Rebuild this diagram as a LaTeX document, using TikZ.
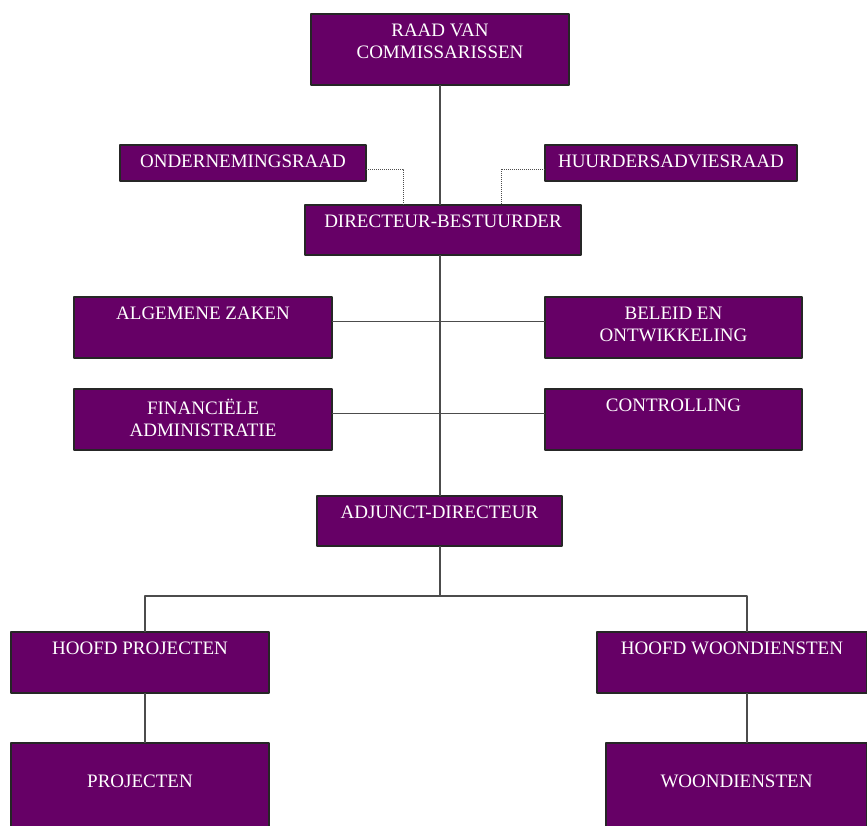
\documentclass[tikz,border=0pt]{standalone}
\usepackage{fontspec}
\setmainfont{Liberation Serif}
\definecolor{paars}{HTML}{660066}
\begin{document}
\begin{tikzpicture}[x=1pt, y=-1pt, line join=round,
        eenheid/.style={draw=black!85, line width=1.1pt, fill=paars, inner sep=0pt, outer sep=0pt, anchor=north west},
        tekst/.style={anchor=north, inner sep=0pt, text=white, align=center, font=\fontsize{19}{21.5}\selectfont, yshift=-10pt},
        lijn/.style={draw=black!70, line width=1.4pt},
        stip/.style={draw=black!70, line width=1pt, densely dotted}]
    \useasboundingbox (0,0) rectangle (867,825);
    \node[eenheid, minimum width=258, minimum height=71, label={[tekst]north:RAAD VAN\\COMMISSARISSEN}] (rvc) at (311,14) {};
    \node[eenheid, minimum width=246, minimum height=36, label={[tekst]north:ONDERNEMINGSRAAD}] (or) at (120,145) {};
    \node[eenheid, minimum width=252, minimum height=36, label={[tekst]north:HUURDERSADVIESRAAD}] (hr) at (545,145) {};
    \node[eenheid, minimum width=276, minimum height=50, label={[tekst]north:DIRECTEUR-BESTUURDER}] (db) at (305,205) {};
    \node[eenheid, minimum width=258, minimum height=61, label={[tekst]north:ALGEMENE ZAKEN}] (az) at (74,297) {};
    \node[eenheid, minimum width=257, minimum height=61, label={[tekst]north:BELEID EN\\ONTWIKKELING}] (bo) at (545,297) {};
    \node[eenheid, minimum width=258, minimum height=61, label={[tekst]north:FINANCIËLE\\ADMINISTRATIE}] (fa) at (74,389) {};
    \node[eenheid, minimum width=257, minimum height=61, label={[tekst]north:CONTROLLING}] (ctr) at (545,389) {};
    \node[eenheid, minimum width=245, minimum height=50, label={[tekst]north:ADJUNCT-DIRECTEUR}] (ad) at (317,496) {};
    \node[eenheid, minimum width=258, minimum height=61, label={[tekst]north:HOOFD PROJECTEN}] (hp) at (11,632) {};
    \node[eenheid, minimum width=270, minimum height=61, label={[tekst]north:HOOFD WOONDIENSTEN}] (hw) at (597,632) {};
    \node[eenheid, minimum width=258, minimum height=100, label={[tekst, yshift=-22pt]north:PROJECTEN}] (pr) at (11,743) {};
    \node[eenheid, minimum width=261, minimum height=100, label={[tekst, yshift=-22pt]north:WOONDIENSTEN}] (wd) at (606,743) {};
    % hoofdlijn
    \draw[lijn] (rvc.south) -- (rvc.south |- db.north);
    \draw[lijn] (rvc.south |- db.south) -- (rvc.south |- ad.north);
    \draw[lijn] ([yshift=6pt]az.east) -- ([yshift=6pt]bo.west);
    \draw[lijn] ([yshift=6pt]fa.east) -- ([yshift=6pt]ctr.west);
    % adviesorganen
    \draw[stip] ([yshift=-6pt]or.east) -| ([xshift=-40pt]db.north);
    \draw[stip] ([yshift=-6pt]hr.west) -| ([xshift=58pt]db.north);
    % onder adjunct
    \coordinate (splits) at (440,596);
    \draw[lijn] (rvc.south |- ad.south) -- (rvc.south |- splits);
    \draw[lijn] ([xshift=5pt]hp.north) |- (splits) -| ([xshift=15pt]hw.north);
    \draw[lijn] ([xshift=5pt]hp.south) -- ([xshift=5pt]pr.north);
    \draw[lijn] ([xshift=15pt]hw.south) -- ([xshift=10.5pt]wd.north);
\end{tikzpicture}
\end{document}
